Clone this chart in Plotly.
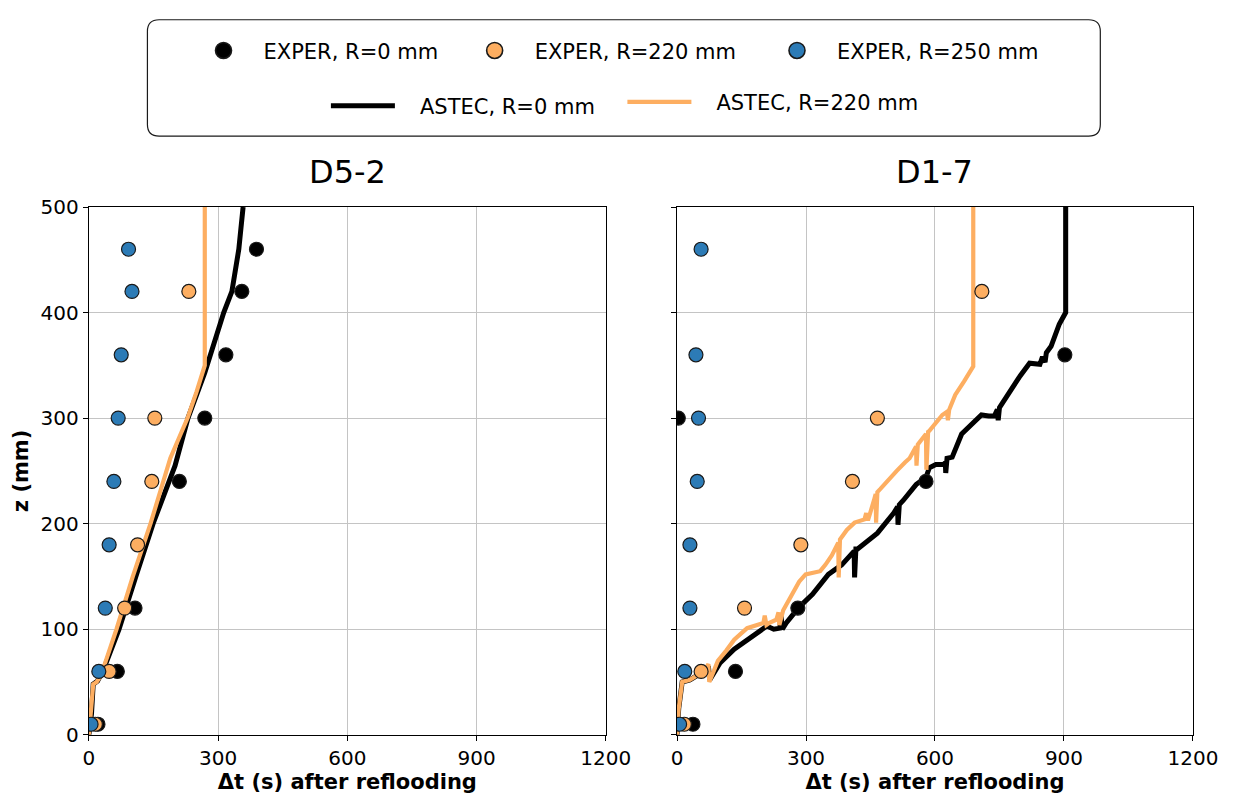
import plotly.graph_objects as go

# ---- experimental quench front data: elevation z (mm) vs Δt (s) after reflooding ----
z_exper = [10, 60, 120, 180, 240, 300, 360, 420, 460]

# D5-2 test
d52_exper_r0 = [21, 66, 107, None, 210, 269, 318, 355, 389]
d52_exper_r220 = [15, 47, 83, 113, 146, 153, None, 232, None]
d52_exper_r250 = [5, 23, 38, 47, 58, 68, 75, 100, 92]

# D1-7 test
d17_exper_r0 = [37, 136, 281, None, 579, 3, 902, None, None]
d17_exper_r220 = [17, 56, 157, 288, 408, 466, None, 709, None]
d17_exper_r250 = [6, 18, 30, 30, 47, 50, 44, None, 56]

# ---- ASTEC calculated quench front ----
d52_astec_r0_t = [0, 6, 10, 20, 34, 70, 109, 149, 200, 230, 269, 290, 313, 332, 341, 348, 353, 358]
d52_astec_r0_z = [0, 20, 48, 51, 62, 100, 150, 200, 255, 300, 343, 370, 400, 420, 440, 460, 480, 500]

d52_astec_r220_t = [0, 5, 10, 18, 26, 36, 64, 102, 143, 189, 229, 250, 269, 269]
d52_astec_r220_z = [0, 20, 48, 50, 55, 66, 100, 150, 200, 262, 300, 325, 350, 500]

d17_astec_r0_t = [0, 4, 12, 30, 50, 65, 73, 76, 85, 100, 133, 163, 190, 209, 225, 239, 242, 245,
                  254, 284, 315, 352, 383, 400, 412, 413, 416, 420, 466, 504, 513, 514, 517, 526,
                  556, 579, 587, 602, 620, 624, 625, 628, 640, 662, 708, 725, 738, 745, 747, 750,
                  768, 798, 820, 844, 850, 856, 859, 870, 889, 904, 904]
d17_astec_r0_z = [0, 25, 50, 52, 57, 62, 65, 52, 58, 68, 81, 90, 97, 103, 100, 101, 112, 100,
                  106, 121, 133, 152, 161, 168, 174, 149, 176, 176, 191, 210, 216, 199, 218, 222,
                  237, 244, 253, 256, 256, 258, 248, 262, 263, 285, 303, 302, 302, 308, 298, 310,
                  322, 340, 352, 351, 358, 353, 362, 368, 389, 400, 500]

d17_astec_r220_t = [0, 4, 12, 30, 50, 65, 73, 75, 80, 95, 115, 133, 163, 190, 201, 204, 208, 215,
                    231, 236, 238, 247, 265, 284, 299, 320, 333, 345, 360, 375, 376, 379, 395, 413,
                    436, 440, 444, 458, 462, 463, 466, 473, 490, 511, 530, 541, 556, 557, 560, 579,
                    580, 584, 587, 600, 617, 628, 630, 633, 647, 668, 689, 689]
d17_astec_r220_z = [0, 25, 50, 52, 57, 62, 67, 50, 55, 70, 80, 90, 101, 104, 106, 113, 104, 106,
                    109, 116, 104, 118, 132, 145, 152, 154, 155, 161, 170, 182, 149, 185, 194, 201,
                    204, 210, 203, 222, 228, 201, 230, 233, 240, 250, 258, 262, 273, 255, 275, 285,
                    251, 287, 288, 295, 303, 306, 298, 308, 322, 335, 349, 500]

x_ticks = [0, 300, 600, 900, 1200]
y_ticks = [0, 100, 200, 300, 400, 500]
panel_titles = ["D5-2", "D1-7"]

BLACK = "#000000"
ORANGE = "#fdae61"
BLUE = "#2c7bb6"
EDGE = "#1a1a1a"
FONT = "DejaVu Sans"
W_BLACK, W_ORANGE = 5, 4.2

series_exper = [("EXPER, R=0 mm", BLACK, "legend"),
                ("EXPER, R=220 mm", ORANGE, "legend2"),
                ("EXPER, R=250 mm", BLUE, "legend3")]
series_astec = [("ASTEC, R=0 mm", BLACK, W_BLACK, "legend4"),
                ("ASTEC, R=220 mm", ORANGE, W_ORANGE, "legend5")]

fig = go.Figure()


def add_panel(xa, ya, astec_r0, astec_r220, exp_r0, exp_r220, exp_r250):
    for (name, color, width, _), (tt, zz) in zip(series_astec, [astec_r0, astec_r220]):
        fig.add_trace(go.Scatter(x=tt, y=zz, mode="lines", xaxis=xa, yaxis=ya, name=name,
                                 legendgroup=name, showlegend=False,
                                 line=dict(color=color, width=width)))
    for (name, color, _), vals in zip(series_exper, [exp_r0, exp_r220, exp_r250]):
        fig.add_trace(go.Scatter(x=vals, y=z_exper, mode="markers", xaxis=xa, yaxis=ya,
                                 name=name, legendgroup=name, showlegend=False,
                                 marker=dict(color=color, size=14, line=dict(color=EDGE, width=1.2))))


add_panel("x", "y", (d52_astec_r0_t, d52_astec_r0_z), (d52_astec_r220_t, d52_astec_r220_z),
          d52_exper_r0, d52_exper_r220, d52_exper_r250)
add_panel("x2", "y2", (d17_astec_r0_t, d17_astec_r0_z), (d17_astec_r220_t, d17_astec_r220_z),
          d17_exper_r0, d17_exper_r220, d17_exper_r250)

# legend entries (larger symbols than the plotted markers)
NBSP = "\u00a0"
for name, color, leg in series_exper:
    fig.add_trace(go.Scatter(x=[None], y=[None], mode="markers", name=name, legend=leg,
                             legendgroup=name,
                             marker=dict(color=color, size=20, line=dict(color=EDGE, width=1.6))))
for name, color, width, leg in series_astec:
    fig.add_trace(go.Scatter(x=[None], y=[None], mode="lines", name=NBSP * 3 + name, legend=leg,
                             legendgroup=name, line=dict(color=color, width=width)))

W, H = 1256, 805

axis_common = dict(showline=True, linecolor="#000000", linewidth=1.2, mirror=True,
                   ticks="outside", ticklen=5, tickwidth=1.2, tickcolor="#000000",
                   showgrid=True, gridcolor="#c4c4c4", gridwidth=1, zeroline=False,
                   tickfont=dict(family=FONT, size=20, color="#000000"))

xtitle = dict(text="<b>Δt (s) after reflooding</b>", font=dict(family=FONT, size=21, color="#000000"),
              standoff=4)

fig.update_layout(
    width=W, height=H,
    margin=dict(l=0, r=0, t=0, b=0),
    paper_bgcolor="white", plot_bgcolor="white",
    font=dict(family=FONT, color="#000000"),
    xaxis=dict(domain=[85 / W, 615 / W], range=[0, 1200], tickvals=x_ticks, title=xtitle,
               anchor="y", **axis_common),
    xaxis2=dict(domain=[688 / W, 1217 / W], range=[0, 1200], tickvals=x_ticks, title=xtitle,
                anchor="y2", **axis_common),
    yaxis=dict(domain=[1 - 745 / H, 1 - 201 / H], range=[0, 500], tickvals=y_ticks,
               anchor="x",
               title=dict(text="<b>z (mm)</b>", font=dict(family=FONT, size=21, color="#000000"),
                          standoff=6),
               **axis_common),
    yaxis2=dict(domain=[1 - 745 / H, 1 - 201 / H], range=[0, 500], tickvals=y_ticks,
                anchor="x2", showticklabels=False, **axis_common),
)

# one legend block per entry, laid out in two centred rows inside a rounded frame
legend_style = dict(orientation="h", xanchor="left", yanchor="middle", bgcolor="rgba(0,0,0,0)",
                    borderwidth=0, font=dict(family=FONT, size=21, color="#000000"))
fig.update_layout(
    legend=dict(x=182 / W, y=1 - 40 / H, itemwidth=70, **legend_style),
    legend2=dict(x=460 / W, y=1 - 40 / H, itemwidth=70, **legend_style),
    legend3=dict(x=770 / W, y=1 - 40 / H, itemwidth=70, **legend_style),
    legend4=dict(x=328 / W, y=1 - 97 / H, itemwidth=64, **legend_style),
    legend5=dict(x=632 / W, y=1 - 93 / H, itemwidth=64, **legend_style),
)

# rounded legend frame
x0, x1 = 145 / W, 1122 / W
y0, y1 = 1 - 128 / H, 1 - 8 / H
rx, ry = 12 / W, 12 / H
frame = (f"M {x0 + rx},{y1} L {x1 - rx},{y1} Q {x1},{y1} {x1},{y1 - ry} "
         f"L {x1},{y0 + ry} Q {x1},{y0} {x1 - rx},{y0} L {x0 + rx},{y0} "
         f"Q {x0},{y0} {x0},{y0 + ry} L {x0},{y1 - ry} Q {x0},{y1} {x0 + rx},{y1} Z")
fig.add_shape(type="path", path=frame, xref="paper", yref="paper",
              line=dict(color=EDGE, width=1.2), fillcolor="white", layer="below")

# panel titles
for title, xc in zip(panel_titles, [(85 + 615) / 2 / W, (688 + 1217) / 2 / W]):
    fig.add_annotation(text=title, x=xc, y=1 - 165 / H, xref="paper", yref="paper",
                       xanchor="center", yanchor="middle", showarrow=False,
                       font=dict(family=FONT, size=32, color="#000000"))

fig.write_html("out.html")
